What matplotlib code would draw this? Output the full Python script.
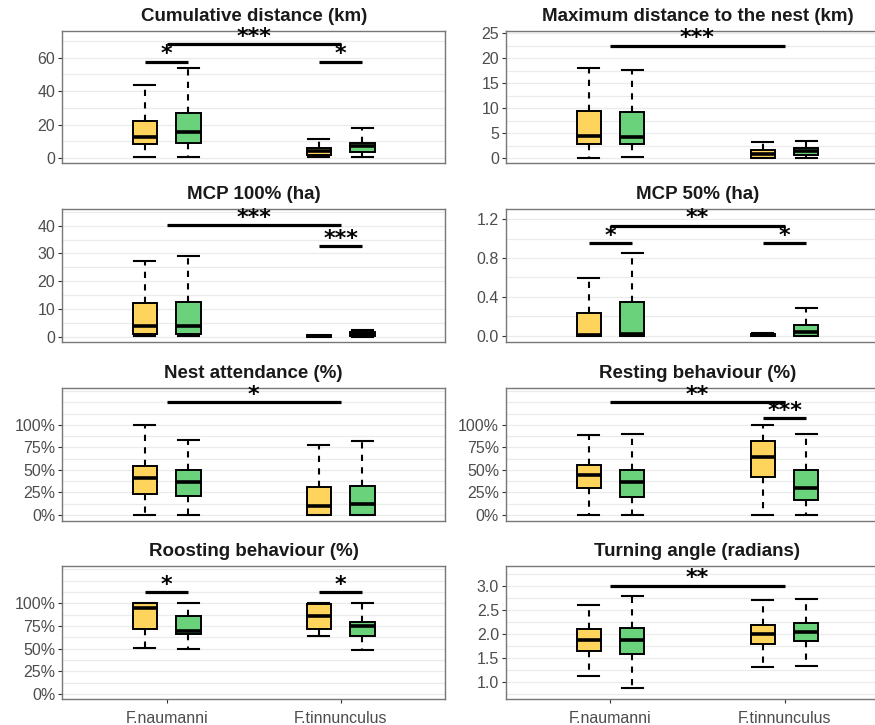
import matplotlib.pyplot as plt
import numpy as np
from matplotlib.ticker import FuncFormatter, StrMethodFormatter

plt.rcParams['font.family'] = ['Liberation Sans', 'DejaVu Sans']

species = ['F.naumanni', 'F.tinnunculus']
fills = ['#FFD45C', '#6AD27B']

# box stats [whislo, q1, med, q3, whishi] in order:
# naumanni yellow, naumanni green, tinnunculus yellow, tinnunculus green
cum_dist = [[0.3, 8.2, 12.7, 22.3, 43.7], [0.8, 8.8, 15.4, 27.1, 54.0],
            [0.4, 1.8, 4.4, 6.2, 11.6], [0.4, 3.4, 7.4, 9.2, 18.1]]
max_dist = [[0.05, 2.8, 4.35, 9.4, 18.0], [0.2, 2.8, 4.15, 9.3, 17.7],
            [0.0, 0.1, 0.9, 1.7, 3.2], [0.1, 0.65, 1.45, 2.0, 3.5]]
mcp100 = [[0.25, 0.97, 3.85, 12.0, 27.2], [0.25, 1.1, 4.0, 12.4, 29.0],
          [0.0, 0.05, 0.2, 0.5, 0.6], [0.0, 0.1, 0.97, 1.8, 2.4]]
mcp50 = [[0.0, 0.0, 0.01, 0.24, 0.595], [0.0, 0.0, 0.02, 0.345, 0.848],
         [0.0, 0.0, 0.01, 0.025, 0.03], [0.0, 0.0, 0.038, 0.116, 0.284]]
nest_att = [[0.0, 0.237, 0.407, 0.548, 1.0], [0.0, 0.215, 0.363, 0.5, 0.83],
            [0.0, 0.0, 0.103, 0.315, 0.778], [0.0, 0.0, 0.119, 0.326, 0.822]]
resting = [[0.0, 0.3, 0.44, 0.556, 0.889], [0.0, 0.204, 0.363, 0.5, 0.896],
           [0.0, 0.426, 0.641, 0.822, 1.0], [0.0, 0.167, 0.304, 0.5, 0.896]]
roosting = [[0.504, 0.717, 0.95, 1.0, 1.0], [0.5, 0.665, 0.69, 0.86, 1.0],
            [0.643, 0.713, 0.863, 0.995, 1.0], [0.488, 0.64, 0.75, 0.794, 1.0]]
turning = [[1.105, 1.646, 1.863, 2.088, 2.6], [0.86, 1.576, 1.86, 2.12, 2.79],
           [1.31, 1.79, 1.997, 2.17, 2.705], [1.325, 1.835, 2.04, 2.215, 2.71]]

# significance bars: (comparison, y, label); 'species' spans both groups,
# a species name spans the two boxes inside that group
sig_cum = [('species', 68, '***'), ('F.naumanni', 57.6, '*'), ('F.tinnunculus', 57.6, '*')]
sig_max = [('species', 22.5, '***')]
sig_mcp100 = [('species', 40.2, '***'), ('F.tinnunculus', 32.7, '***')]
sig_mcp50 = [('species', 1.13, '**'), ('F.naumanni', 0.954, '*'), ('F.tinnunculus', 0.954, '*')]
sig_nest = [('species', 1.254, '*')]
sig_rest = [('species', 1.252, '**'), ('F.tinnunculus', 1.074, '***')]
sig_roost = [('F.naumanni', 1.12, '*'), ('F.tinnunculus', 1.12, '*')]
sig_turn = [('species', 3.0, '**')]

pct = FuncFormatter(lambda v, p: f'{v * 100:.0f}%')
one_dec = StrMethodFormatter('{x:.1f}')
panels = [
    ('Cumulative distance (km)', cum_dist, sig_cum, (-3.0, 76), [0, 20, 40, 60], 10, None),
    ('Maximum distance to the nest (km)', max_dist, sig_max, (-1.0, 25.4), [0, 5, 10, 15, 20, 25], 2.5, None),
    ('MCP 100% (ha)', mcp100, sig_mcp100, (-1.9, 46.0), [0, 10, 20, 30, 40], 5, None),
    ('MCP 50% (ha)', mcp50, sig_mcp50, (-0.062, 1.303), [0, 0.4, 0.8, 1.2], 0.2, one_dec),
    ('Nest attendance (%)', nest_att, sig_nest, (-0.067, 1.41), [0, .25, .5, .75, 1], 0.125, pct),
    ('Resting behaviour (%)', resting, sig_rest, (-0.067, 1.41), [0, .25, .5, .75, 1], 0.125, pct),
    ('Roosting behaviour (%)', roosting, sig_roost, (-0.055, 1.41), [0, .25, .5, .75, 1], 0.125, pct),
    ('Turning angle (radians)', turning, sig_turn, (0.636, 3.408), [1.0, 1.5, 2.0, 2.5, 3.0], 0.25, one_dec),
]

W, H = 875, 725
fig = plt.figure(figsize=(W / 100, H / 100), dpi=100)
col_px = [(62.3, 382.7), (506.0, 383.0)]
row_px = [(31, 163), (209, 342), (388, 521), (566, 699)]

dodge = 0.125
centers = [1, 2]
positions = [centers[0] - dodge, centers[0] + dodge, centers[1] - dodge, centers[1] + dodge]

for i, (title, stats, sigs, ylim, yt, step, fmt) in enumerate(panels):
    r, c = divmod(i, 2)
    x0, w = col_px[c]
    top, bot = row_px[r]
    ax = fig.add_axes([x0 / W, 1 - bot / H, w / W, (bot - top) / H])

    # horizontal grid at every half break
    for g in np.arange(np.floor(ylim[0] / step) * step, ylim[1], step):
        if ylim[0] < g < ylim[1]:
            ax.axhline(g, color='#EBEBEB', lw=0.9, zorder=0)

    bstats = [dict(whislo=s[0], q1=s[1], med=s[2], q3=s[3], whishi=s[4], fliers=[]) for s in stats]
    bp = ax.bxp(bstats, positions=positions, widths=0.14, capwidths=0.12,
                patch_artist=True, showfliers=False, manage_ticks=False,
                boxprops=dict(lw=1.4, edgecolor='black'),
                medianprops=dict(color='black', lw=2.6, solid_capstyle='butt'),
                whiskerprops=dict(color='black', lw=1.5, ls=(0, (3, 3))),
                capprops=dict(color='black', lw=1.5))
    for k, box in enumerate(bp['boxes']):
        box.set_facecolor(fills[k % 2])
        box.set_zorder(2)

    for comp, y, lab in sigs:
        if comp == 'species':
            xa, xb = centers
        else:
            xc = centers[species.index(comp)]
            xa, xb = xc - dodge, xc + dodge
        ax.plot([xa, xb], [y, y], color='black', lw=2.3, solid_capstyle='butt', zorder=4)
        ax.annotate(lab, ((xa + xb) / 2, y), xytext=(0, 1.0), textcoords='offset points',
                    ha='center', va='baseline', fontsize=16, fontweight='bold',
                    family='DejaVu Sans', zorder=5)

    ax.set_xlim(0.4, 2.6)
    ax.set_ylim(*ylim)
    ax.set_yticks(yt)
    if fmt is not None:
        ax.yaxis.set_major_formatter(fmt)
    ax.tick_params(axis='y', length=3, width=0.8, color='#333333',
                   labelcolor='#4D4D4D', labelsize=11.5, pad=2)
    ax.set_xticks(centers)
    if r == 3:
        ax.set_xticklabels(species)
        ax.tick_params(axis='x', length=3, width=0.8, color='#333333',
                       labelcolor='#4D4D4D', labelsize=11.5, pad=5.5)
    else:
        ax.tick_params(axis='x', length=0, labelbottom=False)

    for sp in ax.spines.values():
        sp.set_color('#777777')
        sp.set_linewidth(1.0)
    ax.set_title(title, fontsize=13.5, fontweight='bold', color='#1A1A1A', pad=7)

fig.savefig('out.png', dpi=100)
